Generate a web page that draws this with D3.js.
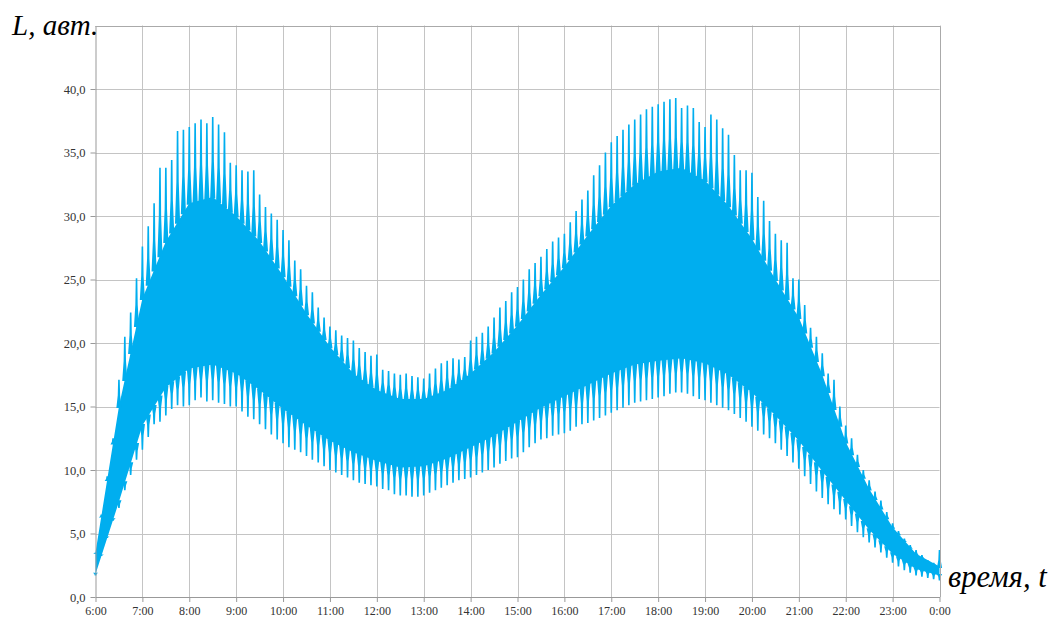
<!DOCTYPE html>
<html>
<head>
<meta charset="utf-8">
<script src="https://cdn.jsdelivr.net/npm/d3@7"></script>
<style>
  body { margin: 0; background: #fff; }
  svg { display: block; }
  .tick text { font-family: "Liberation Serif", "Times New Roman", serif; fill: #333; }
  .label { font-family: "Liberation Serif", "Times New Roman", serif; font-style: italic; fill: #000; }
</style>
</head>
<body>
<svg id="chart"></svg>
<script>
// hour labels on the x axis, 6:00 .. 0:00
const xTickLabels = ['6:00', '7:00', '8:00', '9:00', '10:00', '11:00', '12:00', '13:00', '14:00',
  '15:00', '16:00', '17:00', '18:00', '19:00', '20:00', '21:00', '22:00', '23:00', '0:00'];
const yTicks = [0, 5, 10, 15, 20, 25, 30, 35, 40];

// one spike every 7.5 minutes starting at 6:00 (145 samples)
const spikeStepHours = 0.125;
const spikeHigh = [
  3.5, 6.5, 9.5, 12.5, 17.1, 20.5, 22.4, 25.1,
  27.6, 29.2, 31.0, 33.8, 33.8, 34.4, 36.7, 36.8,
  37.0, 37.3, 37.6, 37.3, 37.8, 37.2, 36.6, 34.2,
  34.0, 33.6, 33.5, 33.6, 31.7, 30.7, 30.2, 29.7,
  28.9, 28.1, 26.5, 25.8, 24.5, 24.0, 22.8, 22.0,
  21.3, 21.0, 20.6, 20.4, 20.2, 19.6, 19.3, 19.0,
  19.1, 17.9, 17.8, 17.6, 17.5, 17.6, 17.4, 17.3,
  17.2, 17.6, 18.0, 18.4, 18.6, 18.8, 18.7, 18.9,
  20.2, 20.5, 20.8, 21.3, 22.0, 22.8, 23.3, 24.0,
  24.4, 25.0, 25.8, 26.3, 26.8, 27.4, 28.0, 28.3,
  28.6, 29.5, 30.4, 31.3, 32.0, 33.2, 34.0, 35.0,
  35.8, 36.3, 36.8, 37.2, 37.6, 38.0, 38.4, 38.6,
  38.8, 39.0, 39.2, 39.3, 38.5, 38.7, 38.5, 37.4,
  37.0, 38.0, 37.6, 36.9, 36.4, 34.8, 33.6, 33.6,
  33.4, 31.5, 31.2, 29.6, 28.6, 28.1, 27.9, 25.1,
  25.0, 23.0, 21.2, 20.5, 19.2, 17.6, 17.1, 15.0,
  13.5, 12.5, 11.2, 10.0, 9.2, 8.3, 7.6, 6.7,
  5.8, 5.2, 4.6, 4.1, 3.7, 3.3, 2.9, 2.7,
  3.7
];
const spikeLow = [
  1.7, 3.5, 4.8, 6.0, 7.0, 8.4, 9.6, 10.8,
  11.6, 12.6, 13.6, 13.8, 14.3, 14.8, 15.1, 15.0,
  15.1, 15.5, 15.7, 15.4, 15.5, 15.3, 15.2, 15.0,
  15.0, 14.6, 14.2, 14.0, 13.6, 13.2, 12.8, 12.4,
  12.1, 11.8, 11.6, 11.4, 11.1, 10.8, 10.6, 10.3,
  10.0, 9.8, 9.6, 9.4, 9.2, 9.0, 8.9, 8.8,
  8.7, 8.5, 8.4, 8.1, 8.0, 8.0, 7.9, 7.9,
  8.0, 8.2, 8.4, 8.6, 8.8, 9.0, 9.2, 9.3,
  9.4, 9.6, 9.8, 10.0, 10.2, 10.5, 10.7, 10.9,
  11.0, 11.4, 11.8, 12.1, 12.4, 12.5, 12.7, 12.8,
  12.9, 13.1, 13.4, 13.6, 13.7, 13.9, 14.1, 14.3,
  14.5, 14.7, 14.9, 15.1, 15.3, 15.4, 15.5, 15.6,
  15.7, 15.8, 16.0, 16.1, 16.1, 16.0, 15.8, 15.6,
  15.5, 15.3, 15.1, 14.9, 14.7, 14.4, 14.1, 13.8,
  13.4, 13.1, 12.8, 12.5, 12.1, 11.6, 11.1, 10.6,
  10.1, 9.5, 8.9, 8.3, 7.8, 7.3, 6.9, 6.5,
  6.1, 5.6, 5.1, 4.7, 4.3, 3.9, 3.5, 3.1,
  2.7, 2.4, 2.1, 1.9, 1.7, 1.6, 1.5, 1.4,
  1.3
];

// solid part of the band, every 30 minutes
const coreStepHours = 0.5;
const coreTop = [
  3.5, 15.0, 23.5, 28.0, 31.0, 31.5, 30.0, 28.0, 25.3, 22.3, 19.7, 17.6,
  16.3, 15.6, 15.6, 16.3, 17.6, 19.3, 21.4, 23.8, 26.0, 28.5, 30.8, 32.5,
  33.5, 33.8, 32.8, 30.8, 28.2, 25.0, 22.0, 17.5, 12.2, 8.5, 5.5, 3.4, 2.4
];
const coreBottom = [
  1.8, 7.5, 13.5, 16.5, 18.0, 18.3, 17.6, 16.3, 14.8, 13.5, 12.3, 11.4,
  10.7, 10.2, 10.3, 10.9, 11.8, 12.7, 13.8, 14.9, 15.8, 16.7, 17.6, 18.3,
  18.6, 18.8, 18.4, 17.5, 16.1, 14.3, 12.3, 9.9, 7.6, 5.3, 3.4, 2.2, 1.7
];

const width = 1053;
const height = 619;
const margin = { left: 95.5, right: 113.5, top: 25.5, bottom: 22 };
const blue = '#00aeef';
const grid = '#c4c4c4';

const svg = d3.select('#chart').attr('width', width).attr('height', height);

const x = d3.scaleLinear()
  .domain([0, xTickLabels.length - 1])
  .range([margin.left, width - margin.right]);
const y = d3.scaleLinear()
  .domain([0, 45])
  .range([height - margin.bottom, margin.top]);

// grid
svg.append('g')
  .selectAll('line')
  .data(d3.range(1, xTickLabels.length))
  .join('line')
  .attr('x1', (d) => Math.round(x(d)) + 0.5)
  .attr('x2', (d) => Math.round(x(d)) + 0.5)
  .attr('y1', y(45))
  .attr('y2', y(0))
  .attr('stroke', grid);
svg.append('g')
  .selectAll('line')
  .data(yTicks.slice(1).concat([45]))
  .join('line')
  .attr('x1', x(0))
  .attr('x2', x(xTickLabels.length - 1))
  .attr('y1', (d) => Math.round(y(d)) + 0.5)
  .attr('y2', (d) => Math.round(y(d)) + 0.5)
  .attr('stroke', grid);

// the band: solid core plus tapered spikes above and below it
const coreTimes = coreTop.map((d, i) => i * coreStepHours);
const coreTopAt = d3.scaleLinear().domain(coreTimes).range(coreTop).clamp(true);
const coreBottomAt = d3.scaleLinear().domain(coreTimes).range(coreBottom).clamp(true);

const coreArea = d3.area()
  .x((d, i) => x(coreTimes[i]))
  .y0((d, i) => y(coreBottom[i]))
  .y1((d) => y(d));

svg.append('path')
  .datum(coreTop)
  .attr('d', coreArea)
  .attr('fill', blue);

const spacing = x(spikeStepHours) - x(0);
const halfBase = spacing * 0.44;

function spikePath(xc, tip, base, dir) {
  // dir = -1 for upward spikes (smaller pixel y), +1 for downward
  const yt = y(tip);
  const yb = y(base) - dir * 1.5;
  const ym = yt + (yb - yt) * 0.55;
  return `M${xc - 0.8},${yt}L${xc + 0.8},${yt}L${xc + 1.2},${ym}L${xc + halfBase},${yb}` +
    `L${xc - halfBase},${yb}L${xc - 1.2},${ym}Z`;
}

const spikes = svg.append('g').attr('fill', blue);

spikes.selectAll('path.up')
  .data(spikeHigh)
  .join('path')
  .attr('class', 'up')
  .attr('d', (d, i) => {
    const t = i * spikeStepHours;
    return spikePath(x(t), Math.max(d, coreTopAt(t)), coreTopAt(t), -1);
  });

spikes.selectAll('path.down')
  .data(spikeLow)
  .join('path')
  .attr('class', 'down')
  .attr('d', (d, i) => {
    const t = i * spikeStepHours;
    return spikePath(x(t), Math.min(d, coreBottomAt(t)), coreBottomAt(t), 1);
  });

// axes
const xAxis = d3.axisBottom(x)
  .tickValues(d3.range(xTickLabels.length))
  .tickFormat((d) => xTickLabels[d])
  .tickSize(5)
  .tickSizeOuter(0);
const yAxis = d3.axisLeft(y)
  .tickValues(yTicks)
  .tickFormat((d) => d3.format('.1f')(d).replace('.', ','))
  .tickSize(5)
  .tickSizeOuter(0);

svg.append('g')
  .attr('transform', `translate(0,${y(0)})`)
  .call(xAxis)
  .call((g) => g.select('.domain').attr('stroke', '#999'))
  .call((g) => g.selectAll('.tick line').attr('stroke', '#999'))
  .call((g) => g.selectAll('.tick text').attr('font-size', 12).attr('y', 18).attr('dy', null));

svg.append('g')
  .attr('transform', `translate(${x(0)},0)`)
  .call(yAxis)
  .call((g) => g.select('.domain').attr('stroke', '#999'))
  .call((g) => g.selectAll('.tick line').attr('stroke', '#999'))
  .call((g) => g.selectAll('.tick text').attr('font-size', 12.5).attr('x', -10));

// right and top frame
svg.append('path')
  .attr('d', `M${x(0)},${Math.round(y(45)) + 0.5}H${Math.round(x(18)) + 0.5}V${y(0)}`)
  .attr('fill', 'none')
  .attr('stroke', '#aaa');

svg.append('text')
  .attr('class', 'label')
  .attr('x', 12)
  .attr('y', 35)
  .attr('font-size', 29)
  .text('L, авт.');

svg.append('text')
  .attr('class', 'label')
  .attr('x', 948)
  .attr('y', 587)
  .attr('font-size', 30.5)
  .text('время, t');
</script>
</body>
</html>
